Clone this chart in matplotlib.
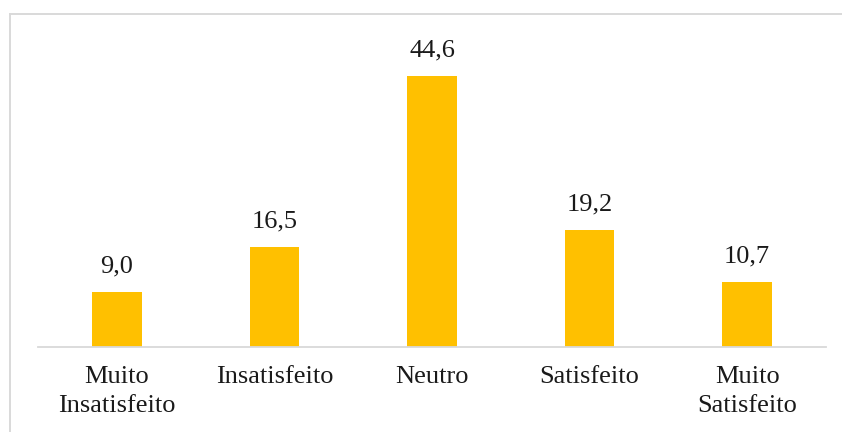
import matplotlib
matplotlib.use("Agg")
import matplotlib.pyplot as plt

categories = ["Muito\nInsatisfeito", "Insatisfeito", "Neutro", "Satisfeito", "Muito\nSatisfeito"]
values = [9.0, 16.5, 44.6, 19.2, 10.7]

plt.rcParams['font.family'] = ['Liberation Serif', 'DejaVu Serif']

W, H = 842, 432
fig = plt.figure(figsize=(W/100, H/100), dpi=100)
ax = fig.add_axes([38/W, 1-347/H, (826-38)/W, (347-43)/H])

x = list(range(len(categories)))
ax.bar(x, values, width=0.315, color="#FFC000", zorder=2)
ax.set_xlim(-0.5, len(categories)-0.5)
ax.set_ylim(0, 50)

for xi, v in zip(x, values):
    ax.annotate(f"{v:.1f}".replace(".", ","), (xi, v), xytext=(0, 14),
                textcoords="offset points", ha="center", va="baseline",
                fontsize=19, color="#1a1a1a")

ax.set_xticks(x)
ax.set_xticklabels(categories, fontsize=19, color="#1a1a1a", linespacing=1.37)
ax.tick_params(axis="x", length=0, pad=14)
ax.set_yticks([])
for s in ["top", "right", "left"]:
    ax.spines[s].set_visible(False)
ax.spines["bottom"].set_color("#d9d9d9")
ax.spines["bottom"].set_linewidth(1.3)

# outer chart border (top and left visible)
fig.add_artist(plt.Line2D([9.5/W, 9.5/W], [0, 1-13.5/H], transform=fig.transFigure,
                          color="#d9d9d9", lw=1.4))
fig.add_artist(plt.Line2D([9.5/W, 1], [1-13.5/H, 1-13.5/H], transform=fig.transFigure,
                          color="#d9d9d9", lw=1.4))

fig.savefig("out.png", dpi=100)
